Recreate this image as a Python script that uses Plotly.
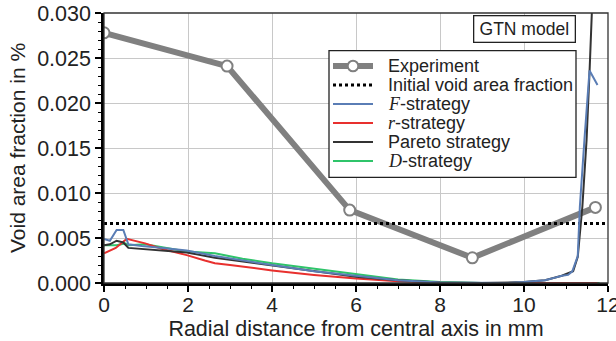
import plotly.graph_objects as go

# ---------------- data ----------------
# Experiment
exp_x = [0.0, 2.93, 5.85, 8.77, 11.7]
exp_y = [0.0278, 0.0241, 0.0081, 0.0028, 0.0084]

# Initial void area fraction
init_void = 0.0066

# F-strategy (blue)
f_x = [0.0, 0.14, 0.3, 0.46, 0.58, 0.9, 1.4, 1.97, 2.64, 3.3, 4.0, 5.0, 6.0, 7.0, 8.0, 9.0, 9.6, 10.0,
       10.5, 10.74, 10.9, 11.05, 11.15, 11.28, 11.33, 11.44, 11.56, 11.75]
f_y = [0.0049, 0.0047, 0.0059, 0.0059, 0.0043, 0.0041, 0.0039, 0.0036, 0.0030, 0.0025, 0.0020, 0.0013,
       0.0008, 0.0003, 0.00005, 0.0, 0.0, 0.0001, 0.0003, 0.0006, 0.0008, 0.0009, 0.0013, 0.0030,
       0.0085, 0.0160, 0.0236, 0.0220]

# r-strategy (red)
r_x = [0.0, 0.28, 0.54, 0.74, 0.98, 1.37, 1.97, 2.4, 2.64, 3.0, 4.0, 5.0, 6.0, 7.0, 8.0, 9.0, 10.0,
       11.0, 11.75]
r_y = [0.0033, 0.0039, 0.0049, 0.0047, 0.0044, 0.0038, 0.0031, 0.0025, 0.0022, 0.0020, 0.0014,
       0.0009, 0.0005, 0.0002, 0.00002, 0.0, 0.0, 0.0, 0.0]

# Pareto strategy (black)
p_x = [0.0, 0.14, 0.3, 0.46, 0.58, 1.37, 1.97, 2.64, 3.3, 4.0, 5.0, 6.0, 7.0, 8.0, 9.0, 10.0, 10.5,
       10.9, 11.17, 11.28, 11.39, 11.49, 11.56, 11.61, 11.64]
p_y = [0.0042, 0.0043, 0.0047, 0.0045, 0.0039, 0.0036, 0.0034, 0.0028, 0.0024, 0.0019, 0.0013,
       0.0007, 0.0003, 0.00005, 0.0, 0.0001, 0.0003, 0.0008, 0.0013, 0.0029, 0.0085, 0.0159,
       0.0234, 0.0300, 0.0330]

# D-strategy (green)
d_x = [0.0, 0.3, 0.5, 0.58, 0.98, 1.97, 2.64, 3.3, 4.0, 5.0, 6.0, 7.0, 8.0, 9.0, 10.0, 11.0, 11.8]
d_y = [0.0042, 0.0042, 0.0044, 0.0042, 0.0043, 0.0035, 0.0033, 0.0027, 0.0022, 0.0016, 0.0010,
       0.0004, 0.0001, 0.0, 0.0, 0.0, 0.0]

x_ticks = [0, 2, 4, 6, 8, 10, 12]
y_ticks = [0.000, 0.005, 0.010, 0.015, 0.020, 0.025, 0.030]

# ---------------- styling ----------------
FONT = "Liberation Sans, Arial, sans-serif"
TXT = "#222222"
MATH = "<span style='font-family:Liberation Serif, Times New Roman, serif'><i>{}</i></span>"

C_EXP = "#808080"
C_F = "#5a7db5"
C_R = "#e8302e"
C_P = "#333333"
C_D = "#2fc46a"

W, H = 616, 341
ML, MR, MT, MB = 104, 8, 13, 58
PW, PH = W - ML - MR, H - MT - MB


def px_x(p):
    return (p - ML) / PW


def px_y(p):
    return (MT + PH - p) / PH


fig = go.Figure()
fig.add_trace(go.Scatter(x=exp_x, y=exp_y, mode="lines+markers", name="Experiment",
                         line=dict(color=C_EXP, width=6),
                         marker=dict(symbol="circle", size=11, color="white",
                                     line=dict(color=C_EXP, width=2))))
fig.add_trace(go.Scatter(x=[0, 12], y=[init_void, init_void], mode="lines",
                         name="Initial void area fraction",
                         line=dict(color="black", width=3, dash="dot")))
fig.add_trace(go.Scatter(x=d_x, y=d_y, mode="lines", name="D-strategy",
                         line=dict(color=C_D, width=2)))
fig.add_trace(go.Scatter(x=r_x, y=r_y, mode="lines", name="r-strategy",
                         line=dict(color=C_R, width=2)))
fig.add_trace(go.Scatter(x=p_x, y=p_y, mode="lines", name="Pareto strategy",
                         line=dict(color=C_P, width=2)))
fig.add_trace(go.Scatter(x=f_x, y=f_y, mode="lines", name="F-strategy",
                         line=dict(color=C_F, width=2)))

# ---------------- manual legend (compact, like the reference) ----------------
leg_left, leg_right, leg_top, leg_bot = 329, 576, 50.7, 177.3
row0, row_h = 66, 19
s0, s1, txt_x = 333, 373, 386
legend_items = [
    ("Experiment", dict(color=C_EXP, width=6), True),
    ("Initial void area fraction", dict(color="black", width=3, dash="dot"), False),
    (MATH.format("F") + "-strategy", dict(color=C_F, width=2), False),
    (MATH.format("r") + "-strategy", dict(color=C_R, width=2), False),
    ("Pareto strategy", dict(color=C_P, width=2), False),
    (MATH.format("D") + "-strategy", dict(color=C_D, width=2), False),
]

shapes = [
    # top/right frame
    dict(type="rect", xref="paper", yref="paper", x0=0, y0=0, x1=1, y1=1,
         line=dict(color="#333333", width=1.3), layer="above"),
    # legend box
    dict(type="rect", xref="paper", yref="paper",
         x0=px_x(leg_left), x1=px_x(leg_right), y0=px_y(leg_bot), y1=px_y(leg_top),
         fillcolor="white", line=dict(color=TXT, width=1.3), layer="above"),
]
annotations = []
for i, (label, ln, marker) in enumerate(legend_items):
    yc = row0 + i * row_h
    shapes.append(dict(type="line", xref="paper", yref="paper",
                       x0=px_x(s0), x1=px_x(s1), y0=px_y(yc), y1=px_y(yc),
                       line=ln, layer="above"))
    if marker:
        r = 5.3
        xm = (s0 + s1) / 2
        shapes.append(dict(type="circle", xref="paper", yref="paper",
                           x0=px_x(xm - r), x1=px_x(xm + r), y0=px_y(yc + r), y1=px_y(yc - r),
                           fillcolor="white", line=dict(color=C_EXP, width=2), layer="above"))
    annotations.append(dict(text=label, xref="paper", yref="paper", x=px_x(txt_x), y=px_y(yc),
                            xanchor="left", yanchor="middle", showarrow=False,
                            font=dict(size=18, family=FONT, color=TXT)))

annotations.append(dict(text="GTN model", xref="paper", yref="paper",
                        x=px_x(524), y=px_y(28.5), xanchor="center", yanchor="middle",
                        showarrow=False, width=100, height=25, borderpad=0,
                        font=dict(size=17.5, family=FONT, color=TXT),
                        bgcolor="white", bordercolor=TXT, borderwidth=1.3))

axis_common = dict(
    showgrid=True, gridcolor="#c8c8c8", gridwidth=1.2,
    showline=True, linecolor="black", linewidth=2.5,
    ticks="outside", ticklen=6, tickwidth=1.5, tickcolor="black",
    zeroline=False, automargin=False,
)

fig.update_layout(
    width=W, height=H,
    margin=dict(l=ML, r=MR, t=MT, b=MB),
    paper_bgcolor="white", plot_bgcolor="white",
    font=dict(family=FONT, color=TXT),
    showlegend=False,
    xaxis=dict(range=[0, 12], tickvals=x_ticks, ticktext=[str(v) for v in x_ticks],
               minor=dict(dtick=0.5, ticks="outside", ticklen=3.5, tickcolor="black",
                          tickwidth=1.2, showgrid=False),
               ticklabeloverflow="allow", ticklabelstandoff=-5,
               tickfont=dict(size=21, family=FONT, color=TXT),
               title=dict(text="Radial distance from central axis in mm", standoff=12,
                          font=dict(size=21.5, family=FONT, color=TXT)),
               **axis_common),
    yaxis=dict(range=[0, 0.03], tickvals=y_ticks, ticktext=["%.3f" % v for v in y_ticks],
               minor=dict(dtick=0.001, ticks="outside", ticklen=3.5, tickcolor="black",
                          tickwidth=1.2, showgrid=False),
               tickfont=dict(size=21.5, family=FONT, color=TXT),
               title=dict(text="Void area fraction in %", standoff=6,
                          font=dict(size=21, family=FONT, color=TXT)),
               **axis_common),
    shapes=shapes,
    annotations=annotations,
)

fig.write_html("out.html")
